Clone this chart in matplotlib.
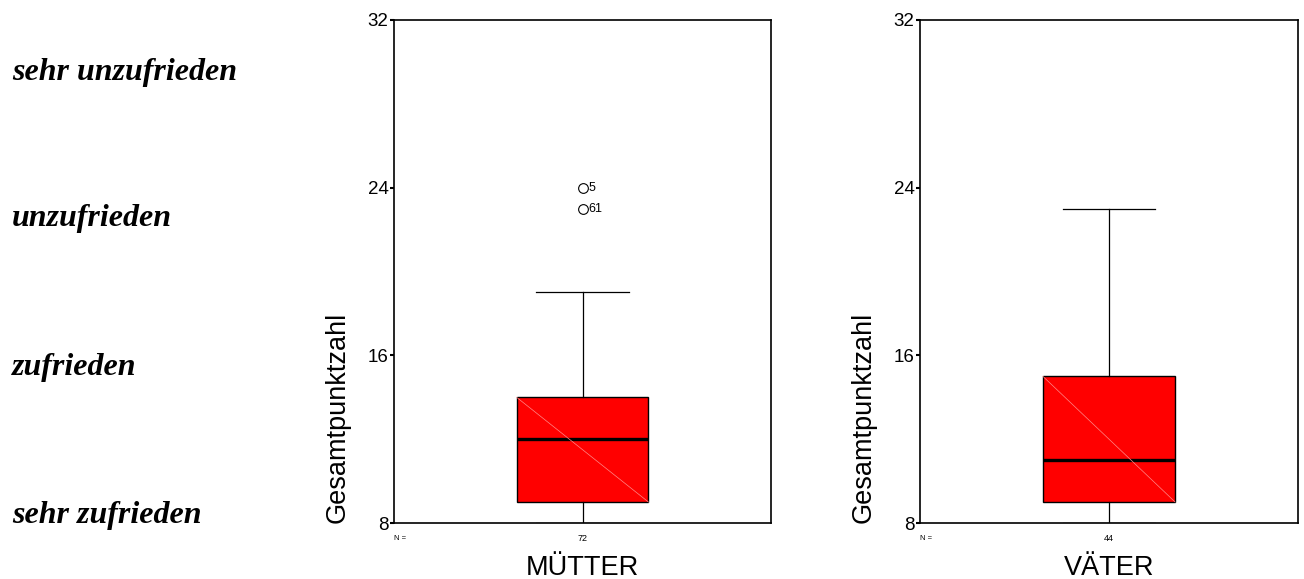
import matplotlib
matplotlib.use("Agg")
import matplotlib.pyplot as plt
import matplotlib.transforms as mtransforms

# --- data ---
groups = ["MÜTTER", "VÄTER"]
n_counts = [72, 44]
q1 = [9, 9]
medians = [12, 11]
q3 = [14, 15]
whisker_lo = [8, 8]
whisker_hi = [19, 23]
outliers = [[24, 23], []]
outlier_ids = [["5", "61"], []]

rating_labels = ["sehr unzufrieden", "unzufrieden", "zufrieden", "sehr zufrieden"]
rating_y = [80, 226, 375, 523]  # baseline pixel rows in the figure

yticks = [8, 16, 24, 32]
ylabel = "Gesamtpunktzahl"

W, H = 1304, 579
fig = plt.figure(figsize=(W / 100, H / 100), dpi=100)
plt.rcParams["font.family"] = ["Liberation Sans", "DejaVu Sans"]

axes_px = [(394, 771), (920, 1298)]
top_px, bot_px = 20, 523
box_w = 0.35

for i, (x0, x1) in enumerate(axes_px):
    ax = fig.add_axes([x0 / W, 1 - bot_px / H, (x1 - x0) / W, (bot_px - top_px) / H])
    stats = [{
        "med": medians[i], "q1": q1[i], "q3": q3[i],
        "whislo": whisker_lo[i], "whishi": whisker_hi[i],
        "fliers": outliers[i],
    }]
    ax.bxp(stats, positions=[1], widths=box_w, capwidths=box_w * 0.7,
           patch_artist=True, showfliers=True,
           boxprops=dict(facecolor="#ff0000", edgecolor="black", linewidth=1.0),
           medianprops=dict(color="black", linewidth=2.4),
           whiskerprops=dict(color="black", linewidth=0.9),
           capprops=dict(color="black", linewidth=0.9),
           flierprops=dict(marker="o", markerfacecolor="none", markeredgecolor="black",
                           markersize=7, markeredgewidth=0.8))
    # thin diagonal across the box
    ax.plot([1 - box_w / 2, 1 + box_w / 2], [q3[i], q1[i]], color="#ff8a8a",
            linewidth=0.5, zorder=3)
    for v, lab in zip(outliers[i], outlier_ids[i]):
        ax.annotate(lab, (1, v), xytext=(4, 0), textcoords="offset points",
                    va="center", ha="left", fontsize=9)

    ax.set_xlim(0.5, 1.5)
    ax.set_ylim(8, 32)
    ax.set_yticks(yticks)
    ax.set_yticklabels([str(t) for t in yticks], fontsize=13.5)
    ax.tick_params(axis="y", direction="out", length=3, width=1.5, pad=1)
    ax.set_xticks([])
    for s in ax.spines.values():
        s.set_color("black")
        s.set_linewidth(1.2)

    ax.set_ylabel(ylabel, fontsize=19.5)
    ax.yaxis.set_label_coords(-0.115, 0, transform=ax.transAxes)
    ax.yaxis.label.set_va("bottom")
    ax.yaxis.label.set_ha("left")
    ax.yaxis.label.set_rotation_mode("anchor")

    trans = mtransforms.blended_transform_factory(ax.transData, ax.transAxes)
    ax.text(0.5, -0.03, "N =", transform=trans, fontsize=5.5, ha="left", va="center")
    ax.text(1, -0.03, str(n_counts[i]), transform=trans, fontsize=6.5, ha="center", va="center")
    ax.text(1, -0.09, groups[i], transform=trans, fontsize=19.5, ha="center", va="center")

for lab, yp in zip(rating_labels, rating_y):
    fig.text(12 / W, 1 - yp / H, lab, family="Liberation Serif", fontweight="bold",
             fontstyle="italic", fontsize=23, ha="left", va="baseline")

fig.savefig("out.png", dpi=100)
